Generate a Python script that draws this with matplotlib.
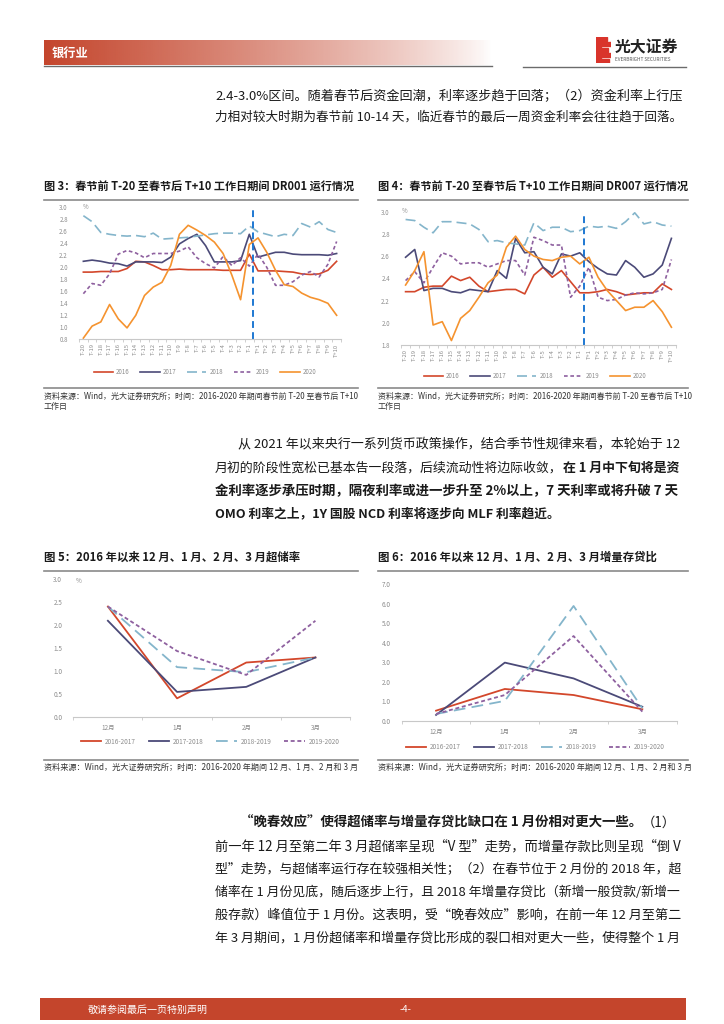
import matplotlib
matplotlib.use("Agg")
import matplotlib.pyplot as plt
import numpy as np
from matplotlib.patches import Rectangle
from matplotlib.lines import Line2D

plt.rcParams['font.family'] = ['Noto Sans CJK SC', 'DejaVu Sans']

# ---------------- data ----------------
DAYS = ["T-20", "T-19", "T-18", "T-17", "T-16", "T-15", "T-14", "T-13", "T-12", "T-11",
        "T-10", "T-9", "T-8", "T-7", "T-6", "T-5", "T-4", "T-3", "T-2", "T-1",
        "T+1", "T+2", "T+3", "T+4", "T+5", "T+6", "T+7", "T+8", "T+9", "T+10"]
YEARS = ["2016", "2017", "2018", "2019", "2020"]

# DR001 (%)
DR001_2016 = [1.92, 1.92, 1.93, 1.93, 1.93, 1.98, 2.10, 2.09, 2.03, 1.96, 1.96, 1.97, 1.96, 1.96, 1.96,
              1.96, 1.95, 1.95, 1.95, 2.22, 1.94, 1.94, 1.94, 1.93, 1.92, 1.89, 1.88, 1.89, 1.95, 2.10]
DR001_2017 = [2.10, 2.12, 2.10, 2.07, 2.06, 2.02, 2.09, 2.09, 2.09, 2.08, 2.17, 2.39, 2.48, 2.55, 2.36,
              2.09, 2.09, 2.09, 2.11, 2.55, 2.17, 2.21, 2.25, 2.25, 2.22, 2.21, 2.21, 2.21, 2.20, 2.23]
DR001_2018 = [2.86, 2.76, 2.58, 2.55, 2.53, 2.52, 2.53, 2.51, 2.57, 2.47, 2.48, 2.49, 2.50, 2.52, 2.54,
              2.56, 2.57, 2.57, 2.56, 2.69, 2.59, 2.55, 2.51, 2.55, 2.53, 2.73, 2.67, 2.76, 2.63, 2.58]
DR001_2019 = [1.56, 1.73, 1.70, 1.89, 2.22, 2.28, 2.24, 2.16, 2.23, 2.23, 2.23, 2.27, 2.34, 2.16, 2.06,
              1.99, 2.18, 2.03, 2.16, 2.02, 2.22, 2.00, 1.70, 1.70, 1.76, 1.87, 1.93, 1.84, 2.05, 2.43]
DR001_2020 = [0.82, 1.02, 1.09, 1.38, 1.14, 0.99, 1.20, 1.53, 1.67, 1.75, 2.03, 2.55, 2.70, 2.62, 2.53,
              2.42, 2.23, 1.87, 1.46, 2.38, 2.49, 2.25, 1.95, 1.71, 1.68, 1.57, 1.50, 1.46, 1.40, 1.20]

# DR007 (%)
DR007_2016 = [2.28, 2.28, 2.32, 2.33, 2.33, 2.42, 2.38, 2.41, 2.33, 2.28, 2.29, 2.30, 2.30, 2.26, 2.43,
              2.50, 2.41, 2.47, 2.37, 2.27, 2.27, 2.28, 2.30, 2.28, 2.25, 2.26, 2.27, 2.27, 2.35, 2.30]
DR007_2017 = [2.59, 2.66, 2.29, 2.31, 2.31, 2.28, 2.27, 2.30, 2.29, 2.28, 2.47, 2.40, 2.76, 2.63, 2.64,
              2.50, 2.44, 2.62, 2.60, 2.63, 2.55, 2.49, 2.44, 2.43, 2.56, 2.50, 2.41, 2.44, 2.52, 2.76]
DR007_2018 = [2.93, 2.92, 2.86, 2.81, 2.91, 2.91, 2.90, 2.89, 2.84, 2.73, 2.74, 2.72, 2.71, 2.70, 2.90,
              2.83, 2.86, 2.86, 2.82, 2.83, 2.87, 2.86, 2.87, 2.85, 2.91, 2.99, 2.89, 2.91, 2.88, 2.87]
DR007_2019 = [2.38, 2.46, 2.36, 2.50, 2.63, 2.60, 2.53, 2.54, 2.54, 2.50, 2.53, 2.56, 2.56, 2.43, 2.77,
              2.74, 2.70, 2.70, 2.23, 2.33, 2.50, 2.23, 2.20, 2.21, 2.25, 2.27, 2.26, 2.27, 2.30, 2.57]
DR007_2020 = [2.34, 2.47, 2.64, 1.98, 2.01, 1.84, 2.04, 2.11, 2.23, 2.36, 2.43, 2.68, 2.78, 2.66, 2.60,
              2.57, 2.56, 2.59, 2.60, 2.53, 2.59, 2.41, 2.29, 2.20, 2.11, 2.14, 2.14, 2.20, 2.10, 1.96]

MONTHS = ["12月", "1月", "2月", "3月"]
PERIODS = ["2016-2017", "2017-2018", "2018-2019", "2019-2020"]
# excess reserve ratio (%)
ER_1617 = [2.40, 0.40, 1.18, 1.29]
ER_1718 = [2.09, 0.54, 0.65, 1.29]
ER_1819 = [2.40, 1.08, 0.97, 1.29]
ER_1920 = [2.40, 1.43, 0.91, 2.09]
# incremental loan/deposit ratio
LD_1617 = [0.53, 1.64, 1.33, 0.60]
LD_1718 = [0.31, 2.99, 2.18, 0.73]
LD_1819 = [0.36, 1.03, 5.89, 0.65]
LD_1920 = [0.36, 1.33, 4.35, 0.48]

# ---------------- styles ----------------
RED = "#D3472B"
NAVY = "#4B4A78"
LBLUE = "#84B5CB"
PURPLE = "#8E609F"
ORANGE = "#F5932F"
VBLUE = "#1E78D2"
BAND = "#C4452C"
TXT = "#1A1A1A"
GREY = "#8C8C8C"

STYLES = [
    dict(color=RED, lw=1.2, ls="-"),
    dict(color=NAVY, lw=1.2, ls="-"),
    dict(color=LBLUE, lw=1.2, ls=(0, (6, 3))),
    dict(color=PURPLE, lw=1.2, ls=(0, (2.2, 1.6))),
    dict(color=ORANGE, lw=1.2, ls="-"),
]

W, H = 724, 1024
fig = plt.figure(figsize=(W / 100, H / 100), dpi=100)
fig.patch.set_facecolor("white")
renderer = fig.canvas.get_renderer()


def fx(x):
    return x / W


def fy(y):
    return 1 - y / H


def put(x, y, s, size=9.2, weight="normal", color=TXT, ha="left", va="center", **kw):
    return fig.text(fx(x), fy(y), s, fontsize=size, fontweight=weight, color=color,
                    ha=ha, va=va, **kw)


def axes_px(x0, y0, x1, y1):
    return fig.add_axes([fx(x0), fy(y1), (x1 - x0) / W, (y1 - y0) / H])


def hline(x0, x1, y, color="#7a7a7a", lw=1.0):
    fig.add_artist(Line2D([fx(x0), fx(x1)], [fy(y), fy(y)], color=color, lw=lw,
                          transform=fig.transFigure))


def put_runs(x, y, runs, size=9.2, right=None):
    """draw consecutive text runs (text, weight) on one line; if right is given,
    the font size is nudged so the line ends there (justified look)"""
    if right is not None:
        total = 0
        for s, wgt in runs:
            t = put(0, -100, s, size=size, weight=wgt)
            total += t.get_window_extent(renderer=renderer).width
            t.remove()
        size = size * min(1.05, max(0.95, (right - x) / total))
    cx = x
    for s, wgt in runs:
        t = put(cx, y, s, size=size, weight=wgt)
        cx += t.get_window_extent(renderer=renderer).width
    return cx


BODY_R = 680

# ---------------- header ----------------
hb = axes_px(44, 40, 492, 65)
grad = np.linspace(0, 1, 400)
rgba = np.zeros((1, 400, 4))
rgba[0, :, :3] = matplotlib.colors.to_rgb(BAND)
rgba[0, :, 3] = (1 - grad) ** 0.8
hb.imshow(rgba, aspect="auto", extent=(0, 1, 0, 1))
hb.axis("off")
hline(44, 492, 65.5, color="#6b6b6b", lw=1.0)
put(52, 53, "银行业", size=8.8, weight="bold", color="white")

# logo
lg = axes_px(596, 37, 611, 63)
lg.set_xlim(0, 1)
lg.set_ylim(0, 1)
lg.axis("off")
for y0, w in [(0.84, 0.75), (0.64, 1.0), (0.44, 0.8), (0.24, 1.0), (0.0, 0.85)]:
    lg.add_patch(Rectangle((0, y0), w, 0.15, color="#D9342B"))
lg.add_patch(Rectangle((0, 0), 0.35, 1.0, color="#D9342B"))
put(615, 47, "光大证券", size=11.4, weight="bold", color="#222222")
put(615, 59.5, "EVERBRIGHT SECURITIES", size=3.4, color="#555555")
hline(523, 686, 66.5, color="#6b6b6b", lw=1.0)

# ---------------- paragraph 1 ----------------
put_runs(215, 97, [("2.4-3.0%区间。随着春节后资金回潮，利率逐步趋于回落；（2）资金利率上行压", "normal")],
         right=BODY_R)
put_runs(215, 117, [("力相对较大时期为春节前 10-14 天，临近春节的最后一周资金利率会往往趋于回落。", "normal")],
         right=BODY_R)


# ---------------- DR charts ----------------
def dr_chart(x0, x1, title, y_top, y_bot, ymin, ymax, ticks, series, vline_pos,
             pct_xy, legend_xy, source_x1):
    put(x0, 187, title, size=8.0, weight="bold")
    hline(x0, source_x1, 199.5, color="#8a8a8a", lw=1.2)
    ax = axes_px(x1[0], y_top, x1[1], y_bot)
    n = len(DAYS)
    xs = np.arange(n)
    handles = []
    for vals, st, name in zip(series, STYLES, YEARS):
        h, = ax.plot(xs, vals, color=st["color"], lw=st["lw"], ls=st["ls"], label=name,
                     solid_joinstyle="round")
        handles.append(h)
    ax.axvline(vline_pos, color=VBLUE, lw=1.4, ls=(0, (3.5, 2.2)))
    ax.set_xlim(-0.5, n - 0.5)
    ax.set_ylim(ymin, ymax)
    ax.set_yticks(ticks)
    ax.set_yticklabels([f"{t:.1f}" for t in ticks])
    ax.set_xticks(xs)
    ax.set_xticklabels(DAYS, rotation=90)
    ax.set_xticks(np.arange(-0.5, n, 1), minor=True)
    ax.tick_params(axis="y", length=0, pad=8, labelsize=4.4, labelcolor=GREY)
    ax.tick_params(axis="x", which="major", length=0, pad=3, labelsize=4.2, labelcolor=GREY)
    ax.tick_params(axis="x", which="minor", length=2.5, color="#c8c8c8", width=0.6)
    for s in ("top", "right", "left"):
        ax.spines[s].set_visible(False)
    ax.spines["bottom"].set_color("#c8c8c8")
    ax.spines["bottom"].set_linewidth(0.8)
    ax.set_facecolor("none")
    put(pct_xy[0], pct_xy[1], "%", size=4.4, color=GREY)
    fig.legend(handles=handles, loc="center", bbox_to_anchor=(fx(legend_xy[0]), fy(legend_xy[1])),
               ncol=5, frameon=False, fontsize=4.4, handlelength=3.2, columnspacing=1.7,
               handletextpad=0.5, labelcolor=GREY)
    hline(x0, source_x1, 388, color="#8a8a8a", lw=1.2)
    put(x0, 396, "资料来源：Wind，光大证券研究所；时间：2016-2020 年期间春节前 T-20 至春节后 T+10",
        size=5.75, color="#333333")
    put(x0, 406, "工作日", size=5.75, color="#333333")
    return ax


dr_chart(44, (79, 341), "图 3：春节前 T-20 至春节后 T+10 工作日期间 DR001 运行情况",
         207.3, 339.3, 0.8, 3.0, np.arange(0.8, 3.01, 0.2),
         [DR001_2016, DR001_2017, DR001_2018, DR001_2019, DR001_2020], 19.4,
         (83, 207), (205, 372), 358)
dr_chart(378, (401, 676), "图 4：春节前 T-20 至春节后 T+10 工作日期间 DR007 运行情况",
         211.7, 345.0, 1.8, 3.0, np.arange(1.8, 3.01, 0.2),
         [DR007_2016, DR007_2017, DR007_2018, DR007_2019, DR007_2020], 19.5,
         (402, 211), (535, 376), 688)

# ---------------- paragraph 2 ----------------
put_runs(238, 444, [("从 2021 年以来央行一系列货币政策操作，结合季节性规律来看，本轮始于 12", "normal")],
         right=BODY_R)
put_runs(215, 468, [("月初的阶段性宽松已基本告一段落，后续流动性将边际收敛，", "normal"),
                    ("在 1 月中下旬将是资", "bold")], right=BODY_R)
put_runs(215, 491, [("金利率逐步承压时期，隔夜利率或进一步升至 2%以上，7 天利率或将升破 7 天", "bold")],
         right=BODY_R)
put(215, 514, "OMO 利率之上，1Y 国股 NCD 利率将逐步向 MLF 利率趋近。", weight="bold")

# ---------------- monthly charts ----------------
M_STYLES = [
    dict(color=RED, lw=1.3, ls="-"),
    dict(color=NAVY, lw=1.3, ls="-"),
    dict(color=LBLUE, lw=1.3, ls=(0, (6.5, 3.5))),
    dict(color=PURPLE, lw=1.3, ls=(0, (2.2, 1.5))),
]


def month_chart(x0, x1, title, y_top, y_bot, ymax, ticks, series, pct_xy, legend_xy,
                source_x1):
    put(x0, 557, title, size=8.2, weight="bold")
    hline(x0, source_x1, 570.5, color="#8a8a8a", lw=1.2)
    ax = axes_px(x1[0], y_top, x1[1], y_bot)
    xs = np.arange(len(MONTHS))
    handles = []
    for vals, st, name in zip(series, M_STYLES, PERIODS):
        h, = ax.plot(xs, vals, color=st["color"], lw=st["lw"], ls=st["ls"], label=name)
        handles.append(h)
    ax.set_xlim(-0.5, len(MONTHS) - 0.5)
    ax.set_ylim(0, ymax)
    ax.set_yticks(ticks)
    ax.set_yticklabels([f"{t:.1f}" for t in ticks])
    ax.set_xticks(xs)
    ax.set_xticklabels(MONTHS)
    ax.set_xticks(np.arange(-0.5, len(MONTHS), 1), minor=True)
    ax.tick_params(axis="y", length=0, pad=8, labelsize=4.6, labelcolor=GREY)
    ax.tick_params(axis="x", which="major", length=0, pad=5, labelsize=4.6, labelcolor=GREY)
    ax.tick_params(axis="x", which="minor", length=2.5, color="#c8c8c8", width=0.6)
    for s in ("top", "right", "left"):
        ax.spines[s].set_visible(False)
    ax.spines["bottom"].set_color("#c8c8c8")
    ax.spines["bottom"].set_linewidth(0.8)
    ax.set_facecolor("none")
    if pct_xy is not None:
        put(pct_xy[0], pct_xy[1], "%", size=4.6, color=GREY)
    fig.legend(handles=handles, loc="center", bbox_to_anchor=(fx(legend_xy[0]), fy(legend_xy[1])),
               ncol=4, frameon=False, fontsize=4.6, handlelength=3.2, columnspacing=2.0,
               handletextpad=0.6, labelcolor=GREY)
    hline(x0, source_x1, 760, color="#8a8a8a", lw=1.2)
    put(x0, 767.5, "资料来源：Wind，光大证券研究所；时间：2016-2020 年期间 12 月、1 月、2 月和 3 月",
        size=5.85, color="#333333")
    return ax


month_chart(44, (73.3, 350), "图 5：2016 年以来 12 月、1 月、2 月、3 月超储率",
            579, 716.7, 3.0, np.arange(0, 3.01, 0.5),
            [ER_1617, ER_1718, ER_1819, ER_1920], (76, 581), (210, 741.7), 358)
month_chart(378, (401.7, 676.7), "图 6：2016 年以来 12 月、1 月、2 月、3 月增量存贷比",
            584.3, 721, 7.0, np.arange(0, 7.01, 1.0),
            [LD_1617, LD_1718, LD_1819, LD_1920], None, (535, 747), 688)

# ---------------- paragraph 3 ----------------
put_runs(240, 823, [("“晚春效应”使得超储率与增量存贷比缺口在 1 月份相对更大一些。", "bold"),
                    ("（1）", "normal")], right=BODY_R)
for yy, line in [(846, "前一年 12 月至第二年 3 月超储率呈现“V 型”走势，而增量存款比则呈现“倒 V"),
                 (869, "型”走势，与超储率运行存在较强相关性；（2）在春节位于 2 月份的 2018 年，超"),
                 (892, "储率在 1 月份见底，随后逐步上行，且 2018 年增量存贷比（新增一般贷款/新增一"),
                 (915, "般存款）峰值位于 1 月份。这表明，受“晚春效应”影响，在前一年 12 月至第二"),
                 (938, "年 3 月期间，1 月份超储率和增量存贷比形成的裂口相对更大一些，使得整个 1 月")]:
    put_runs(215, yy, [(line, "normal")], right=BODY_R)

# ---------------- footer ----------------
fig.add_artist(Rectangle((fx(40), fy(1020)), (686 - 40) / W, 22 / H, transform=fig.transFigure,
                         color=BAND, lw=0))
put(88, 1009.5, "敬请参阅最后一页特别声明", size=7.2, color="white")
put(405, 1009.5, "-4-", size=6.8, color="white", ha="center")

fig.savefig("out.png", dpi=100, facecolor="white")
